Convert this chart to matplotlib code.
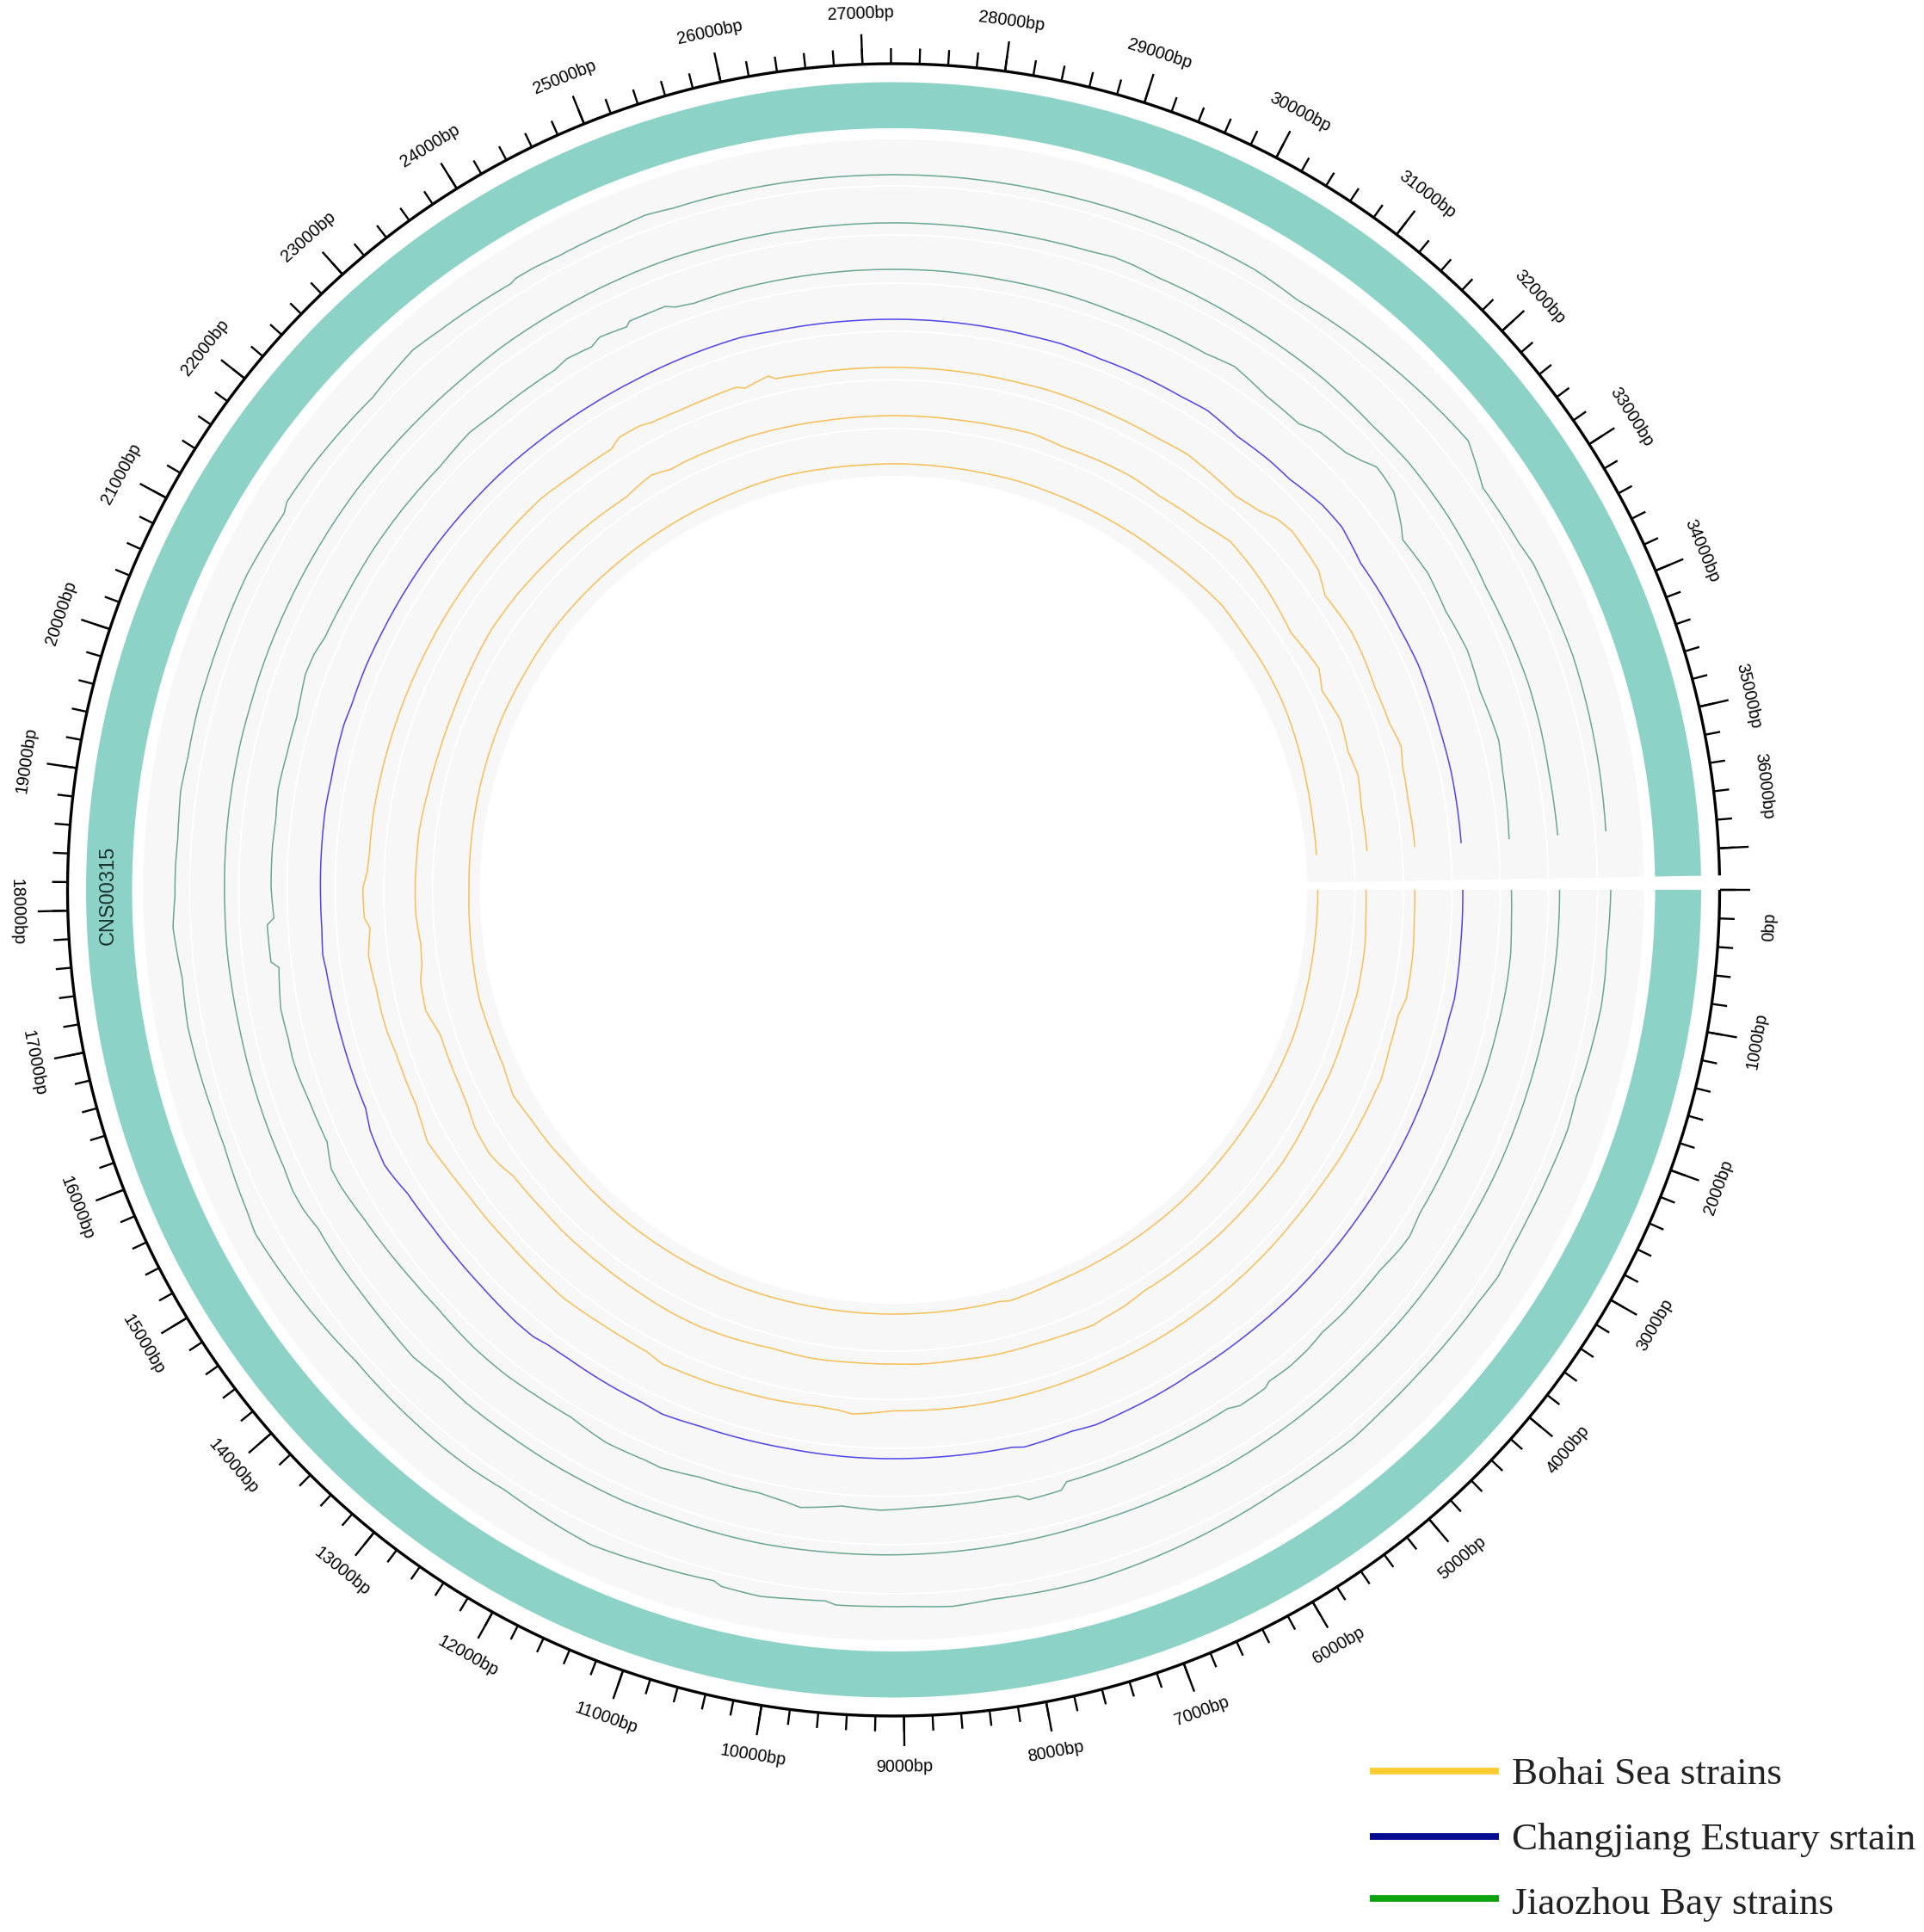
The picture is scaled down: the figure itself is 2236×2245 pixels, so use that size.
import numpy as np
import matplotlib
matplotlib.use('Agg')
import matplotlib.pyplot as plt
from matplotlib.lines import Line2D
from matplotlib.patches import PathPatch
from matplotlib.path import Path

W, H = 2236, 2245
CX, CY = 1038.5, 1034.0
RMAX = 1300.0

# genome ruler
tick_major = list(range(0, 36001, 1000))
tick_minor = list(range(0, 36001, 200))
genome_len = 36190
span_deg = 359.0

# grey rings (outer, inner radius)
ring_outer = [872, 817, 760, 704, 648, 591.5, 535]
ring_inner = [819, 762, 706, 650, 593.5, 537, 481]

# lines: position in degrees clockwise from 0bp, radius
t1_pos = [0, 3, 4.8, 7, 9.4, 13, 16.9, 19.6, 23.5, 27.5, 30.2, 32.6, 33.8, 35.3, 39.4, 42.9, 47, 50, 53, 57.3, 61, 65.3, 67, 69.2, 71.5, 73.7, 76, 77.9, 80, 82, 85.3, 87, 88.5, 91.5, 94.6, 95.5, 98, 100.7, 103.9, 104.6, 107, 109.8, 112.1, 114.8, 116.9, 119.8, 122.9, 125.9, 129, 132, 134.3, 136.5, 138.8, 142.8, 146.4, 148.4, 150.3, 151.7, 153.6, 155.5, 159, 162.3, 166.4, 169, 171.5, 172.9, 175.5, 177, 179.5, 182, 184, 186, 187.9, 190.6, 193, 195, 197, 200, 203, 206, 209, 211.7, 212.6, 215.8, 219.3, 223.4, 226, 228.3, 231, 234, 237.7, 238.3, 240, 242.2, 243.2, 245.8, 247.3, 249.8, 252.1, 255, 259, 263, 267, 271, 275, 279, 283, 287.1, 289, 291.8, 295, 298, 300.2, 304.3, 308, 311, 315, 319, 322, 324, 325.7, 328, 331, 333, 337, 341, 344, 347, 350, 353, 355.3]
t1_val = [833.5, 833, 831.7, 833, 833.5, 831.3, 829, 831.5, 830.3, 830, 830.8, 834, 832, 831.4, 829.6, 829.6, 830, 831.5, 830, 829, 830.5, 832.3, 830.5, 831.7, 833, 834.7, 833.5, 833, 834, 832.3, 835.4, 834, 833, 832.9, 833.7, 830, 832, 835.5, 833.7, 829.5, 831, 833.4, 837.6, 838.4, 836.5, 832.6, 831, 832.7, 833, 832, 833, 831.5, 831, 834.7, 835, 834, 839, 842.5, 839, 833.7, 833, 832.7, 835, 835.5, 834, 833, 837.8, 838.6, 835.2, 835, 834, 835, 836.5, 834.5, 835, 835.5, 835, 835, 835.5, 836, 835, 832.6, 836.9, 836.3, 833.3, 833, 837.5, 840, 837, 834, 833, 835.3, 835, 833, 833.3, 835, 833.6, 835.4, 832.5, 832, 831.5, 831, 831, 831, 831, 831, 831, 831.7, 831, 831.7, 833, 833.5, 834, 830.7, 835, 839, 845, 847, 847.5, 838, 829, 830, 831, 834.5, 834, 835, 834, 833, 831.5, 832, 830.5]

t2_pos = [0, 5, 10, 15, 20, 25, 30, 35, 40, 45, 49.5, 54, 60, 66, 72, 78, 84, 90, 96, 101.5, 105.5, 109.7, 113.7, 117, 120.9, 125, 129.8, 132.7, 135.8, 139.7, 143, 146, 149.5, 151.5, 153.4, 155.5, 160, 165.3, 168, 172, 175, 178, 182, 186, 190, 193, 195.7, 200, 205, 210, 216.3, 220.4, 225, 230.2, 234.2, 238, 243, 247, 251.1, 255, 260, 265, 270, 275, 280, 284, 287.1, 289.2, 291, 293.3, 297, 301, 305.8, 310, 316, 320.3, 326, 330, 333, 337, 342, 346, 349.8, 353, 355.3]
t2_val = [774, 774, 773.5, 773, 773, 773.3, 773, 773.3, 773, 772, 772.6, 773, 773, 772, 771, 771.5, 772, 772.7, 773.5, 775, 775, 775, 776.4, 776, 776, 775.5, 776, 774.5, 778.7, 776.5, 776, 776.5, 776, 780, 781, 778.5, 778, 777.4, 777, 777.4, 777.8, 777.5, 777.8, 778, 778, 778, 777.6, 778, 778, 778, 778, 777.4, 777, 777, 778, 778, 778, 778, 777.8, 776.6, 776, 775, 775, 775, 775, 775.5, 776.3, 778.5, 777.6, 775, 775, 775, 775.3, 776, 775, 777.7, 777, 775, 773, 774, 775.6, 775, 773.7, 774, 774.4]

t3_pos = [0, 3, 6, 9, 13, 17, 22.6, 27, 31.6, 33.9, 35.4, 38.1, 43.4, 45.9, 48, 50.3, 52.6, 53.3, 56.1, 57.2, 62, 68, 73.7, 74.4, 77.5, 78.4, 81, 85, 87.6, 91.2, 94.8, 98.6, 100, 102.5, 105, 108.3, 112, 113.5, 117.4, 119, 121.5, 125, 128.8, 132.4, 137.5, 141, 144.2, 148.1, 151.7, 153.6, 156, 160, 162.7, 164.3, 166.2, 169, 172.8, 173.4, 176.8, 177.4, 180.3, 184, 186.5, 189.3, 192.6, 196.1, 198.3, 200.1, 202.1, 204, 208, 213, 218, 223, 227.1, 229.9, 233, 236.9, 238.4, 240.9, 242, 244.6, 245.1, 247.3, 248.6, 249.5, 251.2, 255, 260, 265, 270, 275, 280, 284, 287.1, 291, 295, 300.2, 303.1, 307, 311, 313, 314.5, 316, 317.5, 318.8, 320, 321.5, 323, 324.3, 325.5, 329.4, 333.2, 337.3, 341.3, 346.1, 349, 353, 355.3]
t3_val = [718, 719, 721, 721, 720, 719.5, 716.7, 717, 717.8, 722.4, 721.4, 717.6, 717.4, 716, 719, 720.2, 718.7, 722.4, 722, 717, 716.5, 716.5, 716.6, 724.4, 725.8, 719, 717.7, 718, 718.3, 721, 718.5, 725.8, 722, 718, 718.5, 718.8, 724, 722.8, 724, 722, 718.4, 719.5, 721.6, 721.7, 719.2, 720, 721.9, 724.5, 729, 729.6, 720.6, 722, 724.7, 725.5, 724.4, 725.5, 720, 728.4, 729, 720.9, 723.5, 723.6, 722.6, 724.7, 722.5, 722, 725, 728, 727, 723, 722, 722.5, 722, 721, 724.7, 722, 721.5, 721, 724.6, 722, 727.4, 724, 728.6, 728, 728, 723, 720, 721, 721, 721, 721, 721, 720, 720, 719.8, 719, 720, 721, 725.8, 719, 717.7, 727, 729, 731, 738, 746, 745, 742.7, 734, 726.4, 718, 721.8, 718.7, 722.6, 719.6, 724.4, 721, 719, 717.7]

t4_pos = [0, 5, 11, 13, 15, 20, 25, 30, 35, 40, 45, 51.4, 55, 58.5, 60, 62.6, 66, 69.3, 71.8, 74, 76.8, 78, 82, 86, 90, 95, 100.6, 105, 109.9, 113.8, 116.1, 120, 124.8, 127.2, 128.9, 131.1, 134, 136.3, 140, 143.9, 148, 150, 151.6, 153.5, 155.3, 157.5, 161, 165, 169.4, 172, 173.5, 176, 179, 184, 188.2, 191, 193.4, 196.8, 198.8, 202.9, 207, 212, 218, 223.4, 226.3, 232, 238, 243, 249, 254.6, 258, 262, 266, 270, 275, 280, 284, 287, 291.2, 296, 300.3, 303.2, 307.2, 311, 314, 318.1, 321, 325, 329, 332.7, 336.8, 340, 343.6, 348, 352, 355.3]
t4_val = [661.5, 662, 664, 662.5, 662.3, 661.6, 661.5, 661, 660.5, 660.5, 660.6, 660, 660, 660, 661, 662, 663, 664.5, 662.3, 663.4, 665, 662.2, 661.5, 661, 661, 661, 660.7, 661.5, 662.7, 665.9, 663.6, 663.5, 663, 664, 667, 667, 665.5, 664.5, 664, 664, 666, 670, 672.5, 671, 669.5, 664, 664, 664.2, 665, 666, 667.7, 666, 666, 666.5, 667, 666, 666.6, 667, 665.5, 666, 665.5, 665.5, 665.5, 665.3, 665.4, 664.5, 664, 664, 665, 666, 664, 663.5, 663, 663, 663, 663, 663, 663.7, 662, 663, 663.5, 665.8, 661.3, 663, 663, 669.5, 670.2, 662.4, 662.5, 662, 663.5, 662.5, 661.6, 662.3, 662, 661.8]

t5_pos = [0, 3, 7, 12, 14, 17.6, 21.3, 22.7, 27, 31.1, 35, 39.4, 43, 47.1, 53, 59, 65, 72, 78.6, 84, 90, 94.5, 96, 98.4, 103.2, 107, 110, 114, 116, 118, 120.1, 124, 129, 133, 137.6, 141, 144.2, 148, 151.6, 153.5, 155.8, 159, 161.9, 164, 166.5, 169, 172.9, 175.8, 177, 180.2, 182, 184, 188.2, 192, 197.6, 201.7, 206, 212, 218.2, 222, 228, 232.2, 235, 237.3, 238.8, 241.3, 242.6, 246, 249, 252.6, 253.5, 256.3, 257, 260, 265, 270, 275, 280, 284, 287, 291, 295, 300.3, 304, 306.8, 311, 314, 316, 318, 321, 323, 325.7, 330.5, 333.3, 337.3, 341.4, 344.2, 346.3, 350, 355.3]
t5_val = [605.7, 606, 608, 609, 604.3, 604.8, 608, 607, 606, 605.2, 603.8, 603.4, 604, 604.4, 605, 605.6, 605.5, 606, 606.3, 606, 605.3, 611, 608, 606.5, 608.6, 609.4, 611, 612, 613, 608.6, 608, 608, 610, 608, 607.2, 608, 608.5, 611.6, 615.8, 612, 608.6, 608.5, 608.7, 611, 612, 612, 615, 610, 616, 616.8, 612, 610.6, 611, 610.5, 610, 610, 610, 610.5, 610.7, 611, 612, 609, 608.5, 608, 615, 614.6, 611.6, 610, 610.5, 612, 608, 614.5, 609.6, 608, 607.5, 607, 607, 607, 607, 607.7, 607.6, 607.5, 607.9, 610.4, 608.5, 606, 612, 620, 623, 620, 618, 607, 610.8, 609.6, 606.8, 608, 613, 608.8, 607, 607.8]

t6_pos = [0, 4, 6.5, 12.8, 16.8, 22.5, 27.2, 31.5, 35.1, 41.2, 46, 52, 58, 61, 63.8, 65.4, 69, 72.7, 78, 81.9, 86, 90, 94.7, 99.9, 104.9, 109.2, 113.9, 118.1, 122.6, 128, 133.7, 137.5, 143, 145, 146.9, 150.4, 153, 155.5, 158.9, 162.3, 165.5, 169, 171, 173.5, 177, 181, 184, 187, 192, 197, 202, 207, 212.7, 218, 224, 230, 235.7, 238.4, 239.8, 242.1, 243.9, 247.8, 252, 257, 262, 267, 272, 277, 282, 287, 291, 296, 300, 304, 307, 310, 314, 318, 322, 327.1, 332.5, 335.1, 339.2, 343.1, 346.1, 350, 355.3]
t6_val = [549, 550, 551.6, 552, 550, 550.2, 549, 551, 552, 551, 551, 550, 549.6, 553, 554.6, 556.4, 554, 552.8, 553, 551.6, 552, 551, 551.2, 552.6, 551.2, 553.4, 555.3, 555, 553.4, 552.5, 552.5, 551.7, 553, 558, 561, 559.6, 555, 553.3, 553, 553, 561.5, 560, 555, 553, 556, 556, 555.5, 555.6, 553, 552, 552, 554, 556.7, 556, 554, 553, 552, 556.5, 558, 553, 553.5, 553, 553, 552, 551, 551, 551, 551, 552, 554, 551, 553, 554, 552, 554, 556, 563, 560, 556, 550, 557.3, 549, 555.6, 552, 556, 552, 552]

t7_pos = [0, 6, 11, 15, 20, 26, 33.4, 40, 46, 52, 58, 63, 68, 74.2, 75.5, 80, 86, 90, 96, 102, 108.3, 114, 120, 127, 133, 139.9, 143, 147.8, 151.6, 153.5, 155.7, 160, 165.3, 170, 175, 180, 186, 192, 198, 204, 210, 217, 224, 232, 240, 246.5, 250, 254.7, 260, 266, 272, 278, 283, 287, 291, 296, 302, 308, 314, 319, 324, 329, 334, 338, 345, 350, 355.3]
t7_val = [493, 493, 493.4, 494, 494.8, 494, 492.7, 492.5, 493, 493, 493, 493, 493.2, 496.3, 494, 493.5, 493, 493, 493, 493.5, 494.3, 495, 495, 495, 495, 495, 497, 498.7, 502.5, 500, 497.4, 497, 498, 496, 494.5, 493.5, 494, 495, 496, 497, 497, 498, 497.5, 497, 497, 497, 497.5, 497.7, 496, 495, 495, 495, 495.5, 496.5, 496.4, 497, 498, 499, 502, 505, 503, 503, 502, 500, 496, 494, 493]

GREEN = '#6BA68F'
BLUE = '#4F43EA'
YELLOW = '#F8BE58'

legend_names = ['Bohai Sea strains', 'Changjiang Estuary srtain', 'Jiaozhou Bay strains']
legend_colors = ['#FFCB33', '#050C92', '#0DA30F']


def bp_deg(bp):
    return np.asarray(bp) * span_deg / genome_len


fig = plt.figure(figsize=(W / 100, H / 100), dpi=100, facecolor='white')
ax = fig.add_axes([(CX - RMAX) / W, 1 - (CY + RMAX) / H, 2 * RMAX / W, 2 * RMAX / H],
                  projection='polar')
ax.set_theta_zero_location('E')
ax.set_theta_direction(-1)
ax.set_rlim(0, RMAX)
ax.set_axis_off()

full = np.deg2rad(span_deg)

# id ring
ax.bar(0, 938.5 - 885, width=full, bottom=885, align='edge', color='#8DD2C6', linewidth=0)
ax.text(np.deg2rad(179.6), 912.5, 'CNS00315', rotation=90, rotation_mode='anchor',
        ha='center', va='center', fontsize=17, family='Liberation Sans', color='#17332F')

# grey background rings
for ro, ri in zip(ring_outer, ring_inner):
    ax.bar(0, ro - ri, width=full, bottom=ri, align='edge', color='#F7F7F7', linewidth=0)

# coverage lines, as paths so the polar transform bends them along the ring
tracks = [(t1_pos, t1_val, GREEN), (t2_pos, t2_val, GREEN), (t3_pos, t3_val, GREEN),
          (t4_pos, t4_val, BLUE), (t5_pos, t5_val, YELLOW), (t6_pos, t6_val, YELLOW),
          (t7_pos, t7_val, YELLOW)]
for pos, val, col in tracks:
    verts = np.column_stack([np.deg2rad(pos), val])
    ax.add_patch(PathPatch(Path(verts, _interpolation_steps=12), fill=False,
                           edgecolor=col, lw=1.1, capstyle='butt', joinstyle='miter'))

# ruler
arc = np.deg2rad(np.arange(0, span_deg + 0.25, 0.25))
ax.plot(arc, np.full(arc.shape, 960.0), color='black', lw=2.4, solid_capstyle='butt')
ax.vlines(np.deg2rad(bp_deg(tick_minor)), 960, 978, color='black', lw=1.7)
ax.vlines(np.deg2rad(bp_deg(tick_major)), 960, 995, color='black', lw=1.7)
ax.set_rlim(0, RMAX)

# the two labels next to the gap are pushed away from it
label_shift = {0: 2.4, 36000: -3.9}
for bp in tick_major:
    a = float(bp_deg(bp)) + label_shift.get(bp, 0)
    rot = 90 - a if a < 180 else 270 - a
    ax.text(np.deg2rad(a), 1019, f'{bp}bp', rotation=rot, rotation_mode='anchor',
            ha='center', va='center', fontsize=14.3, family='Liberation Sans', color='black')

# legend
leg_y = [2058, 2134, 2206]
leg_base = [2073, 2149, 2224]
for name, col, y, b in zip(legend_names, legend_colors, leg_y, leg_base):
    fig.add_artist(Line2D([1592 / W, 1742 / W], [1 - y / H, 1 - y / H], color=col, lw=5.6,
                          solid_capstyle='butt', transform=fig.transFigure))
    fig.text(1757 / W, 1 - b / H, name, fontsize=32.5, family='Liberation Serif', color='#222222',
             ha='left', va='baseline')

fig.savefig('out.png', dpi=100, facecolor='white')
